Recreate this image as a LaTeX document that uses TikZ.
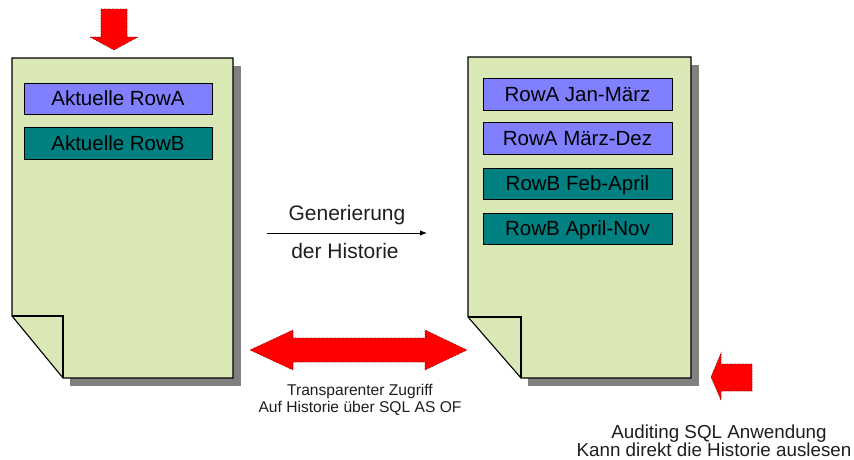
\documentclass[tikz,border=0pt]{standalone}
\usepackage{fontspec}
\setmainfont{Liberation Sans}
\usetikzlibrary{arrows.meta}
\definecolor{pagefill}{RGB}{217,232,180}
\definecolor{shadowgray}{RGB}{128,128,128}
\definecolor{rowblue}{RGB}{128,128,255}
\definecolor{rowteal}{RGB}{0,128,128}
\definecolor{arrowred}{RGB}{255,0,0}
\definecolor{labelgray}{RGB}{30,30,30}
\tikzset{
  pageshadow/.style={fill=shadowgray, draw=none},
  pagesheet/.style={fill=pagefill, draw=black, line width=1.1pt, line join=miter},
  rowbox/.style={draw=black, line width=0.9pt, inner sep=0pt, minimum width=188pt,
    font=\fontsize{20.5}{24}\selectfont, text=black, text height=14.7pt, text depth=0pt},
  rowa/.style={rowbox, fill=rowblue},
  rowb/.style={rowbox, fill=rowteal},
  bigarrow/.style={fill=arrowred, draw=red!45!black, densely dotted, line width=0.6pt},
  lbl/.style={anchor=base, text=labelgray, inner sep=0pt},
}
\begin{document}
\begin{tikzpicture}[x=1pt,y=-1pt]
\useasboundingbox (0,0) rectangle (854,459);

% ---- left page ----
\fill[pageshadow] (70,66) rectangle (241,386);
\draw[pagesheet] (12,58) -- (233,58) -- (233,378) -- (63,378) -- (12,316) -- cycle;
\draw[pagesheet, fill=none] (12,316) -- (63,316) -- (63,378);

\node[rowa, minimum height=31pt] (la) at (118,98.5) {Aktuelle RowA};
\node[rowb, minimum height=32pt] (lb) at (118,143) {Aktuelle RowB};

% ---- right page ----
\fill[pageshadow] (528,65) rectangle (699,386);
\draw[pagesheet] (468,57) -- (691,57) -- (691,378) -- (521,378) -- (468,317) -- cycle;
\draw[pagesheet, fill=none] (468,317) -- (521,317) -- (521,378);

\node[rowa, minimum width=189pt, minimum height=32pt] (r1) at (577.5,94) {RowA Jan-März};
\node[rowa, minimum width=189pt, minimum height=32pt] (r2) at (577.5,138) {RowA März-Dez};
\node[rowb, minimum width=189pt, minimum height=31pt] (r3) at (577.5,183.5) {RowB Feb-April};
\node[rowb, minimum width=189pt, minimum height=31pt] (r4) at (577.5,228.5) {RowB April-Nov};

% ---- top down arrow ----
\draw[bigarrow] (101,9) -- (127,9) -- (127,37) -- (138,37) -- (114,50) -- (90,37) -- (101,37) -- cycle;

% ---- double arrow ----
\draw[bigarrow] (250,350) -- (293,330) -- (293,338) -- (425,338) -- (425,330) -- (467,350)
  -- (425,370) -- (425,362) -- (293,362) -- (293,370) -- cycle;

% ---- lower right left-pointing arrow ----
\draw[bigarrow] (711,377) -- (721,353) -- (721,364) -- (752,364) -- (752,391) -- (721,391) -- (721,400) -- cycle;

% ---- generation connector ----
\coordinate (gs) at (267,233);
\coordinate (ge) at (427,233);
\draw[line width=0.8pt, -{Latex[length=7pt,width=5.5pt]}] (gs) -- (ge);
\node[lbl, font=\fontsize{21}{24}\selectfont] (gen1) at (347,220) {Generierung};
\node[lbl, font=\fontsize{21}{24}\selectfont] (gen2) at (345,258) {der Historie};

% ---- labels ----
\node[lbl, font=\fontsize{15.6}{18}\selectfont] (tz1) at (360,395) {Transparenter Zugriff};
\node[lbl, font=\fontsize{15.6}{18}\selectfont] (tz2) at (360,412) {Auf Historie über SQL AS OF};

\node[lbl, font=\fontsize{18.8}{22}\selectfont] (au1) at (719,438) {Auditing SQL Anwendung};
\node[lbl, font=\fontsize{18.8}{22}\selectfont] (au2) at (714,456) {Kann direkt die Historie auslesen};
\end{tikzpicture}
\end{document}
